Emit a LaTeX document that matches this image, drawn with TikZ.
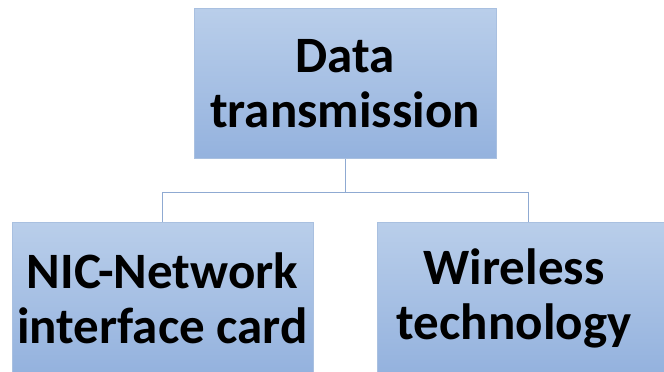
\documentclass[tikz,border=0pt]{standalone}
\usepackage{fontspec}
\setmainfont{Carlito}
\definecolor{boxtop}{HTML}{B9CEEA}
\definecolor{boxbot}{HTML}{94B2DE}
\definecolor{boxedge}{HTML}{A9C0E0}
\definecolor{linkcol}{HTML}{8FAAD2}
\begin{document}
\begin{tikzpicture}[x=1pt,y=1pt,
  boxfont/.style={font=\fontsize{51}{55}\selectfont\bfseries},
  boxnode/.style={draw=boxedge,line width=1pt,top color=boxtop,bottom color=boxbot,
    minimum height=150pt,inner sep=0pt,align=center,boxfont},
  labelnode/.style={inner sep=0pt,align=center,boxfont},
  link/.style={draw=linkcol,line width=1pt}]
\useasboundingbox (0,0) rectangle (664,372);
\clip (0,0) rectangle (664,372);
\node[boxnode,minimum width=302pt] (top) at (345,288) {Data\\transmission};
\node[boxnode,minimum width=301pt] (nic) at (162.5,74) {NIC-Network\\interface card};
\node[boxnode,minimum width=302pt] (wl) at (528,74) {};
\node[labelnode] (wltext) at ([xshift=-14pt]wl.center) {Wireless\\technology};
\coordinate (junc) at ([yshift=-33pt]top.south);
\draw[link] (top.south) -- (junc) -| (nic.north);
\draw[link] (junc) -| (wl.north);
\end{tikzpicture}
\end{document}
